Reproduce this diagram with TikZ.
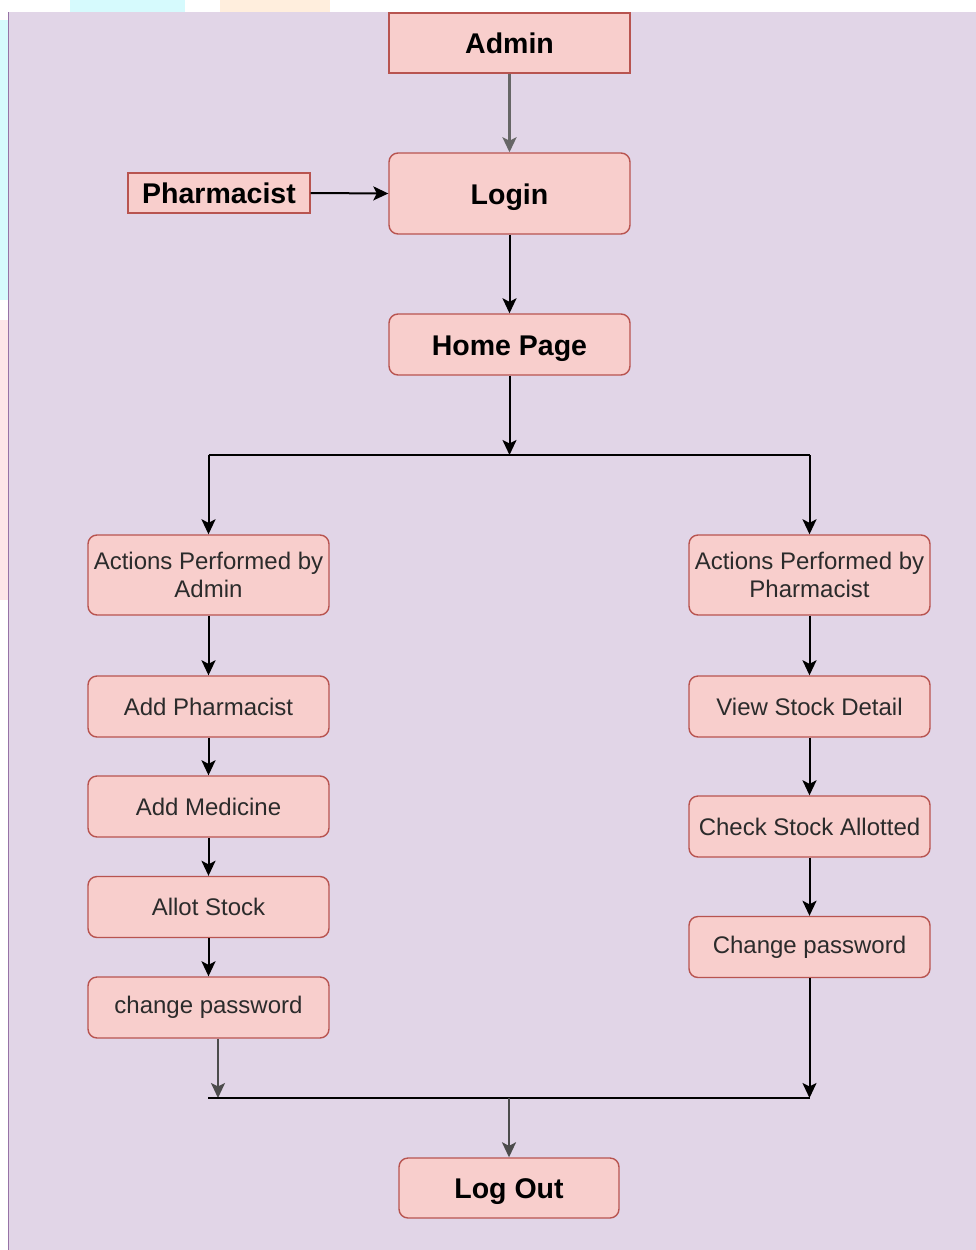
\documentclass[tikz,border=0pt]{standalone}
\usepackage{fontspec}
\setmainfont{Liberation Sans}
\usetikzlibrary{arrows.meta}
\definecolor{bgfill}{HTML}{E1D5E7}
\definecolor{bgline}{HTML}{9673A6}
\definecolor{boxfill}{HTML}{F8CECC}
\definecolor{boxline}{HTML}{B85450}
\definecolor{txt}{HTML}{2B2B2B}
\definecolor{wmcyan}{HTML}{D6FAFD}
\definecolor{wmpink}{HTML}{FDE6E8}
\definecolor{wmorange}{HTML}{FFEEDD}
\tikzset{
  base/.style={draw=boxline, fill=boxfill, line width=1.4pt, inner sep=0pt, align=center},
  box/.style={base, rounded corners=9pt, minimum width=241pt, minimum height=61pt, text=txt, font=\fontsize{24}{28}\selectfont},
  bigbox/.style={base, rounded corners=9pt, minimum width=241pt, text height=27pt, text depth=6pt, font=\bfseries\fontsize{28.5}{30}\selectfont},
  sqbox/.style={base, text height=27pt, text depth=6pt, font=\bfseries\fontsize{28.5}{30}\selectfont},
  conn/.style={line width=2pt, draw=black},
  arr/.style={conn, -{Stealth[length=15pt, width=14pt, inset=3.5pt]}},
}
\begin{document}
\begin{tikzpicture}[x=1pt, y=-1pt]
\useasboundingbox (0,0) rectangle (976,1250);
\fill[white] (0,0) rectangle (976,1250);
% faint watermark pieces
\fill[wmcyan] (0,20) rectangle (8,300);
\fill[wmpink] (0,320) rectangle (8,600);
\fill[wmcyan] (70,0) rectangle (185,12);
\fill[wmorange] (220,0) rectangle (330,12);
% background panel
\fill[bgfill] (8,12) rectangle (976,1250);
\draw[bgline, line width=1.2pt] (8.6,12) -- (8.6,1250);

% nodes
\node[sqbox, minimum width=241pt, minimum height=60pt] (admin) at (509.5,43) {Admin};
\node[bigbox, minimum height=81pt] (login) at (509.5,193.5) {Login};
\node[sqbox, minimum width=182pt, minimum height=40pt] (pharm) at (219,193) {Pharmacist};
\node[bigbox, minimum height=61pt] (home) at (509.5,344.5) {Home Page};

\node[box, minimum height=80pt] (actA) at (208.5,575) {Actions Performed by\\Admin};
\node[box] (addP) at (208.5,706.5) {Add Pharmacist};
\node[box] (addM) at (208.5,806.5) {Add Medicine};
\node[box] (allot) at (208.5,907) {Allot Stock};
\node[box] (cpA) at (208.5,1007.5) {change password};

\node[box, minimum height=80pt] (actP) at (809.5,575) {Actions Performed by\\Pharmacist};
\node[box] (view) at (809.5,706.5) {View Stock Detail};
\node[box] (check) at (809.5,826.5) {Check Stock Allotted};
\node[box] (cpP) at (809.5,947) {Change password};

\node[bigbox, minimum width=220pt, minimum height=60pt] (logout) at (509,1188) {Log Out};

% junction coordinates
\coordinate (jt) at (509.5,455);
\coordinate (jl) at (208.5,455);
\coordinate (jr) at (809.5,455);
\coordinate (bl) at (218,1098);
\coordinate (bll) at (208,1098);
\coordinate (br) at (809.5,1098);
\coordinate (bm) at (509,1098);

% connectors
\draw[arr, draw=black!60, line width=2.8pt, -{Stealth[length=15pt, width=14pt, inset=3.5pt]}] (admin.south) -- (login.north);
\draw[arr] (pharm.east) -- (login.west);
\draw[arr] (login.south) -- (home.north);
\draw[arr] (home.south) -- (jt);
\draw[conn] (jl) -- (jr);
\draw[arr] (jl) -- (actA.north);
\draw[arr] (jr) -- (actP.north);

\draw[arr] (actA) -- (addP);
\draw[arr] (addP) -- (addM);
\draw[arr] (addM) -- (allot);
\draw[arr] (allot) -- (cpA);

\draw[arr] (actP) -- (view);
\draw[arr] (view) -- (check);
\draw[arr] (check) -- (cpP);

\draw[arr, draw=black!70] (cpA.south -| bl) -- (bl);
\draw[arr] (cpP.south) -- (br);
\draw[conn] (bll) -- (br);
\draw[arr, draw=black!70] (bm) -- (logout.north);
\end{tikzpicture}
\end{document}
